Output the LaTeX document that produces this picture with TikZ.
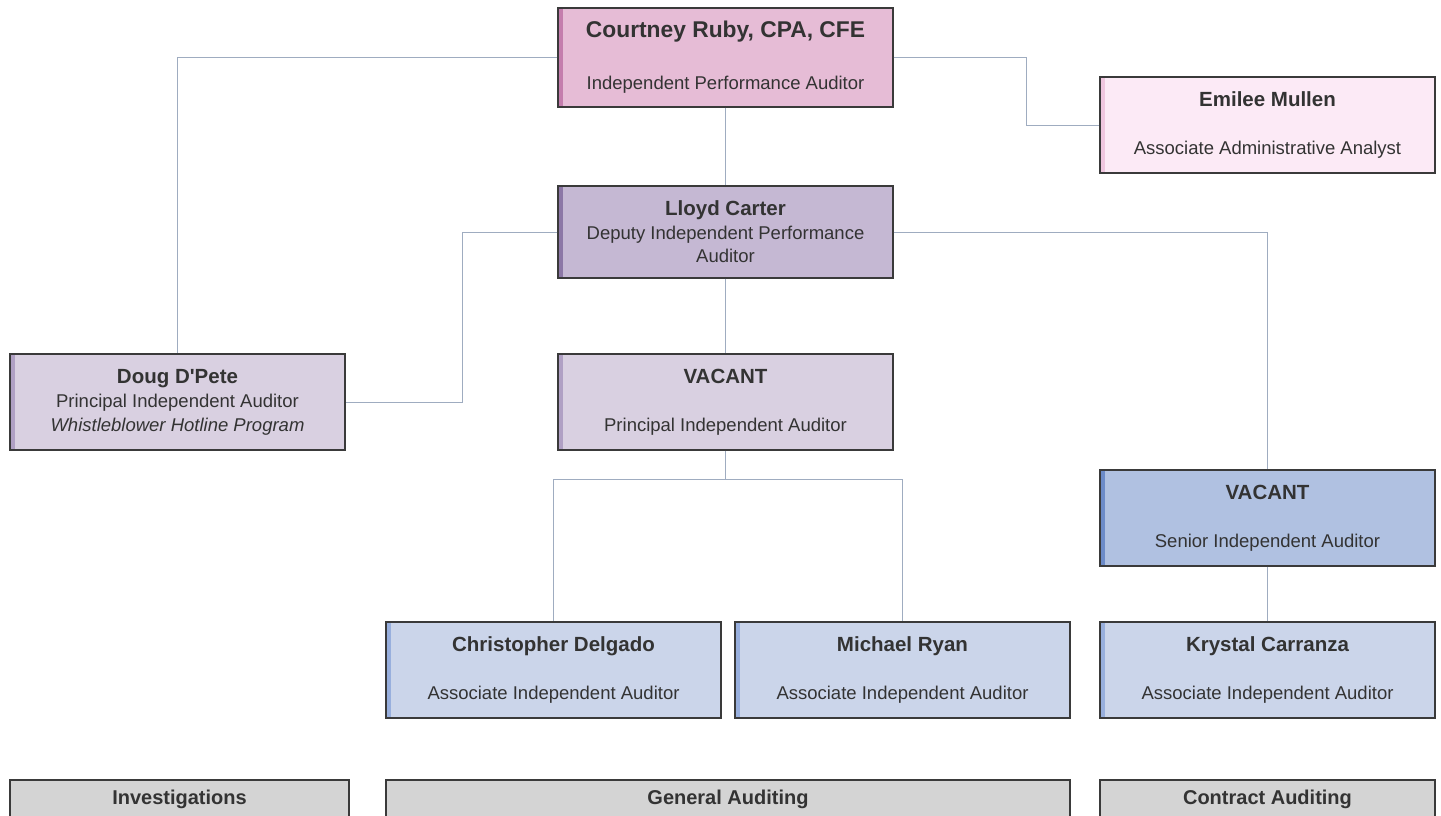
\documentclass[tikz,border=0pt]{standalone}
\usepackage{fontspec}
\setmainfont{Liberation Sans}
\usepackage{tikz}
\usepackage{xcolor}
\definecolor{myline}{HTML}{9FACC0}
\definecolor{myborder}{HTML}{3A3A3A}
\definecolor{mytext}{HTML}{333333}
\definecolor{pinkfill}{HTML}{E6BCD6}
\definecolor{pinkbar}{HTML}{C47DAD}
\definecolor{lightpink}{HTML}{FCEAF6}
\definecolor{lightpinkbar}{HTML}{EFC6DF}
\definecolor{mauvefill}{HTML}{C5B8D3}
\definecolor{mauvebar}{HTML}{8C77A6}
\definecolor{lilacfill}{HTML}{D9D0E1}
\definecolor{lilacbar}{HTML}{B0A0C4}
\definecolor{bluefill}{HTML}{B0C1E1}
\definecolor{bluebar}{HTML}{6C8BC8}
\definecolor{paleblue}{HTML}{CBD5EA}
\definecolor{palebluebar}{HTML}{98AFDD}
\definecolor{sectfill}{HTML}{D4D4D4}
\tikzset{
  box/.style={draw=myborder,line width=1.3pt,rectangle,inner sep=0pt,
              minimum width=335pt,minimum height=96pt,align=center,text=mytext,
              font=\fontsize{18.5}{24}\selectfont},
  bar/.style={path picture={\fill[#1] (path picture bounding box.north west)
              rectangle ([xshift=5pt]path picture bounding box.south west);}},
  box head/.style={box,fill=pinkfill,bar=pinkbar,minimum height=99pt},
  box admin/.style={box,fill=lightpink,bar=lightpinkbar},
  box deputy/.style={box,fill=mauvefill,bar=mauvebar,minimum height=92pt,
                     font=\fontsize{18.5}{23.5}\selectfont},
  box principal/.style={box,fill=lilacfill,bar=lilacbar},
  box senior/.style={box,fill=bluefill,bar=bluebar},
  box assoc/.style={box,fill=paleblue,bar=palebluebar},
  section/.style={box,fill=sectfill,minimum height=38pt,
                  font=\fontsize{20}{24}\selectfont\bfseries},
  connect/.style={myline,line width=1pt}
}
\newcommand{\who}[1]{{\fontsize{20.5}{24}\selectfont\bfseries #1}}

\begin{document}
\begin{tikzpicture}[x=1pt,y=-1pt]
   \fill[white] (0,0) rectangle (1441,816);
   \clip (0,0) rectangle (1441,816);

   % Draw top of the office
   \node[box head] (ruby) at (725.5,57.5)
        {{\fontsize{22.8}{24}\selectfont\bfseries Courtney Ruby, CPA, CFE}\\[28pt]Independent Performance Auditor};
   \node[box admin] (mullen) at (1267.5,125) {\who{Emilee Mullen}\\[24pt]Associate Administrative Analyst};
   \node[box deputy] (carter) at (725.5,232)
        {\who{Lloyd Carter}\\Deputy Independent Performance\\Auditor};

   % Principal auditors
   \node[box principal] (dpete) at (177.5,402)
        {\who{Doug D\textquotesingle Pete}\\Principal Independent Auditor\\\textit{Whistleblower Hotline Program}};
   \node[box principal] (vacantP) at (725.5,402) {\who{VACANT}\\[24pt]Principal Independent Auditor};
   \node[box senior] (vacantS) at (1267.5,518) {\who{VACANT}\\[24pt]Senior Independent Auditor};

   % Associate auditors
   \node[box assoc] (delgado) at (553.5,670) {\who{Christopher Delgado}\\[24pt]Associate Independent Auditor};
   \node[box assoc] (ryan) at (902.5,670) {\who{Michael Ryan}\\[24pt]Associate Independent Auditor};
   \node[box assoc] (carranza) at (1267.5,670) {\who{Krystal Carranza}\\[24pt]Associate Independent Auditor};

   % Sections along the bottom
   \foreach \lbl/\x/\w [count=\li] in {Investigations/179.5/339,General Auditing/728/684,Contract Auditing/1267.5/335}{%
   \node[section,minimum width=\w pt] (sec\li) at (\x,799) {\lbl};
   }

   % Reporting lines
   \draw[connect] (ruby.west) -| (dpete.north);
   \draw[connect] (ruby.east) -- ++(133,0) |- (mullen.west);
   \draw[connect] (ruby.south) -- (carter.north);
   \draw[connect] (carter.west) -- ++(-95,0) |- (dpete.east);
   \draw[connect] (carter.east) -| (vacantS.north);
   \draw[connect] (carter.south) -- (vacantP.north);
   \draw[connect] (vacantP.south) -- ++(0,29) coordinate (split);
   \draw[connect] (split) -| (delgado.north);
   \draw[connect] (split) -| (ryan.north);
   \draw[connect] (vacantS.south) -- (carranza.north);
\end{tikzpicture}
\end{document}
